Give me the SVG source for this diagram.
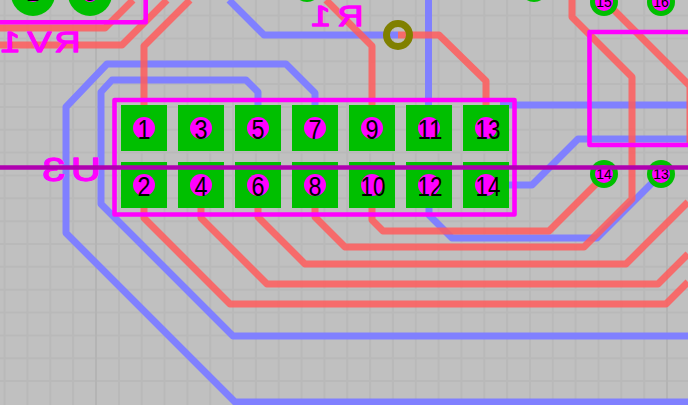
<svg xmlns="http://www.w3.org/2000/svg" width="688" height="405" viewBox="0 0 688 405">
<style>
.grid{fill:none;stroke:#b9b9b9;stroke-width:2}
.heavy{fill:none;stroke:#b4b4b4;stroke-width:2}
.blue{fill:none;stroke:#8080ff;stroke-width:7;stroke-linejoin:round}
.red{fill:none;stroke:#ff5c5c;stroke-opacity:.85;stroke-width:7;stroke-linejoin:round}
.outline{fill:none;stroke:#ff00ff;stroke-width:4.6;stroke-linejoin:round}
.pad{fill:#00bf00}
.hole{fill:#ff00ff}
.num{font-family:"Liberation Sans",Arial,sans-serif;font-size:28px;fill:#000;text-anchor:middle}
.small{font-family:"Liberation Sans",Arial,sans-serif;font-size:14px;fill:#000;text-anchor:middle}
.silk{font-family:"Liberation Sans",Arial,sans-serif;fill:#ff00ff;stroke:#ff00ff;stroke-width:1.300;stroke-linejoin:round}
</style>
<rect width="688" height="405" fill="#c0c0c0"/>
<path class="grid" d="M4.600 0V405M27.400 0V405M50.300 0V405M73.100 0V405M119 0V405M141.700 0V405M164.500 0V405M187.400 0V405M210.200 0V405M233 0V405M255.900 0V405M278.700 0V405M301.600 0V405M324.400 0V405M347.200 0V405M370.100 0V405M392.900 0V405M415.800 0V405M438.600 0V405M461.400 0V405M484.300 0V405M507.100 0V405M530 0V405M552.800 0V405M575.600 0V405M598.500 0V405M621.300 0V405M644.200 0V405M0 15.600H688M0 38.400H688M0 61.300H688M0 84.100H688M0 107H688M0 129.800H688M0 152.600H688M0 175.500H688M0 198.300H688M0 221.200H688M0 244H688M0 266.800H688M0 289.700H688M0 312.500H688M0 335.400H688M0 358.200H688M0 381H688"/>
<path class="heavy" d="M96 0V405M667 0V405"/>
<g id="connectors">
<path class="blue" d="M315 105V93L286 64H107L66 107V233L235 402H688"/>
<path class="blue" d="M258 105V92L246 80H112L101 92V204L233 336H688"/>
<path class="blue" d="M398 35H264L229 0"/>
<path class="blue" d="M428.500 0V105"/>
<path class="blue" d="M500 105H688"/>
<path class="blue" d="M486 185H532L578 139H688"/>
<path class="blue" d="M429 208V215L452 238H597L661 174"/>
<path class="red" d="M144 105V46L190 0"/>
<path class="red" d="M0 45H122L167 0"/>
<path class="red" d="M0 28H105L133 0"/>
<path class="red" d="M372 105V46L326 0"/>
<path class="red" d="M398 35H439L486 81V105"/>
<path class="red" d="M144 208V218L230 304H666L688 282"/>
<path class="red" d="M201 208V218L267 284H658L688 254"/>
<path class="red" d="M258 208V217L305 264H626L688 202"/>
<path class="red" d="M315 208V217L345 247H584L632 199V77L572 17V0"/>
<path class="red" d="M372 208V220L383 231H549L604 176"/>
<path class="red" d="M604 0L690 86V145"/>
</g>
<g id="top-pads">
<circle class="pad" cx="33" cy="-6" r="22"/><circle class="hole" cx="33" cy="-6" r="8"/>
<circle class="pad" cx="90" cy="-6" r="22"/><circle class="hole" cx="90" cy="-6" r="8"/>
<text class="num" x="33" y="1" textLength="13" lengthAdjust="spacingAndGlyphs">2</text><text class="num" x="90" y="1" textLength="13" lengthAdjust="spacingAndGlyphs">3</text>
<circle class="pad" cx="307" cy="-12" r="14"/>
<circle class="pad" cx="534" cy="-12" r="14"/>
</g>
<g id="RV1"><path class="outline" d="M0 22.300H145.700V0"/>
<text class="silk" transform="translate(78,52) scale(-1.200,1)" font-size="30" x="-2 22 48">RV1</text></g>
<g id="R1"><circle cx="398" cy="35" r="11.500" fill="none" stroke="#808000" stroke-width="7"/>
<text class="silk" transform="translate(361,26) scale(-1.200,1)" font-size="30" x="-2 25">R1</text></g>
<g id="U3">
<rect class="outline" x="114.500" y="100" width="400" height="114.500"/>
<g id="pin1"><rect class="pad" x="121" y="105" width="46" height="46"/><circle class="hole" cx="144" cy="128" r="11"/><text class="num" x="144" y="139" textLength="13" lengthAdjust="spacingAndGlyphs">1</text></g>
<g id="pin3"><rect class="pad" x="178" y="105" width="46" height="46"/><circle class="hole" cx="201" cy="128" r="11"/><text class="num" x="201" y="139" textLength="13" lengthAdjust="spacingAndGlyphs">3</text></g>
<g id="pin5"><rect class="pad" x="235" y="105" width="46" height="46"/><circle class="hole" cx="258" cy="128" r="11"/><text class="num" x="258" y="139" textLength="13" lengthAdjust="spacingAndGlyphs">5</text></g>
<g id="pin7"><rect class="pad" x="292" y="105" width="46" height="46"/><circle class="hole" cx="315" cy="128" r="11"/><text class="num" x="315" y="139" textLength="13" lengthAdjust="spacingAndGlyphs">7</text></g>
<g id="pin9"><rect class="pad" x="349" y="105" width="46" height="46"/><circle class="hole" cx="372" cy="128" r="11"/><text class="num" x="372" y="139" textLength="13" lengthAdjust="spacingAndGlyphs">9</text></g>
<g id="pin11"><rect class="pad" x="406" y="105" width="46" height="46"/><circle class="hole" cx="429" cy="128" r="11"/><text class="num" x="430" y="139" textLength="25" lengthAdjust="spacingAndGlyphs">11</text></g>
<g id="pin13"><rect class="pad" x="463" y="105" width="46" height="46"/><circle class="hole" cx="486" cy="128" r="11"/><text class="num" x="488" y="139" textLength="25" lengthAdjust="spacingAndGlyphs">13</text></g>
<g id="pin2"><rect class="pad" x="121" y="162" width="46" height="46"/><circle class="hole" cx="144" cy="185" r="11"/><text class="num" x="144" y="196" textLength="13" lengthAdjust="spacingAndGlyphs">2</text></g>
<g id="pin4"><rect class="pad" x="178" y="162" width="46" height="46"/><circle class="hole" cx="201" cy="185" r="11"/><text class="num" x="201" y="196" textLength="13" lengthAdjust="spacingAndGlyphs">4</text></g>
<g id="pin6"><rect class="pad" x="235" y="162" width="46" height="46"/><circle class="hole" cx="258" cy="185" r="11"/><text class="num" x="258" y="196" textLength="13" lengthAdjust="spacingAndGlyphs">6</text></g>
<g id="pin8"><rect class="pad" x="292" y="162" width="46" height="46"/><circle class="hole" cx="315" cy="185" r="11"/><text class="num" x="315" y="196" textLength="13" lengthAdjust="spacingAndGlyphs">8</text></g>
<g id="pin10"><rect class="pad" x="349" y="162" width="46" height="46"/><circle class="hole" cx="372" cy="185" r="11"/><text class="num" x="373" y="196" textLength="25" lengthAdjust="spacingAndGlyphs">10</text></g>
<g id="pin12"><rect class="pad" x="406" y="162" width="46" height="46"/><circle class="hole" cx="429" cy="185" r="11"/><text class="num" x="430" y="196" textLength="25" lengthAdjust="spacingAndGlyphs">12</text></g>
<g id="pin14"><rect class="pad" x="463" y="162" width="46" height="46"/><circle class="hole" cx="486" cy="185" r="11"/><text class="num" x="488" y="196" textLength="25" lengthAdjust="spacingAndGlyphs">14</text></g>
<text class="silk" transform="translate(97,181) scale(-1.250,1)" font-size="33" x="-3 25.500">U3</text>
</g>
<g id="right-pads">
<circle class="pad" cx="604" cy="2" r="14"/><circle class="hole" cx="604" cy="2" r="9"/><text class="small" x="604" y="7">15</text>
<circle class="pad" cx="661" cy="2" r="14"/><circle class="hole" cx="661" cy="2" r="9"/><text class="small" x="661" y="7">16</text>
<circle class="pad" cx="604" cy="174" r="14"/><circle class="hole" cx="604" cy="174" r="9"/><text class="small" x="604" y="179">14</text>
<circle class="pad" cx="661" cy="174" r="14"/><circle class="hole" cx="661" cy="174" r="9"/><text class="small" x="661" y="179">13</text>
</g>
<path id="right-outline" class="outline" d="M690 32H589.500V145H690"/>
<path id="axis" d="M0 167.500H688" stroke="#b000b0" stroke-width="4.600" fill="none"/>
</svg>
